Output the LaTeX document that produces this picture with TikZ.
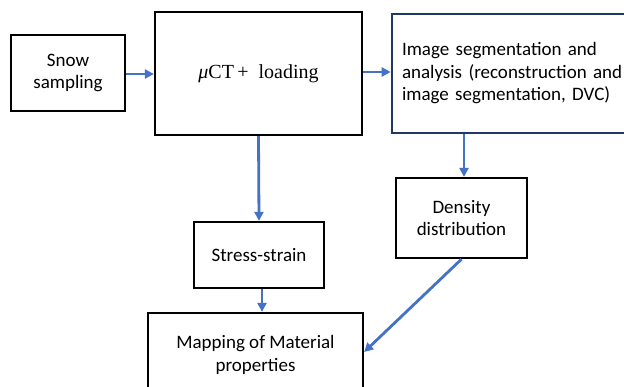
\documentclass[tikz,border=0pt]{standalone}
\usepackage{fontspec}
\newfontfamily\calfont{Carlito}
\newfontfamily\serfont{Liberation Serif}
\usetikzlibrary{arrows.meta,calc}
\definecolor{arrowblue}{HTML}{4472C4}
\definecolor{navyborder}{HTML}{1F3864}
\begin{document}
\begin{tikzpicture}[x=1pt,y=1pt,
  box/.style={draw=black,line width=2.3pt,rectangle,inner sep=0pt,align=center,
    font=\calfont\fontsize{19}{22.5}\selectfont},
  flow/.style={draw=arrowblue,line width=2.8pt,-{Triangle[length=9pt,width=9pt]}}]
\useasboundingbox (0,0) rectangle (624,-386);
\clip (0,0) rectangle (624,-386);
\fill[white] (0,0) rectangle (624,-386);
\node[box,minimum width=114,minimum height=76] (snow) at (68,-73) {Snow\\sampling};
\node[box,minimum width=207,minimum height=123,font=\serfont\fontsize{20}{24}\selectfont] (ct) at (258.5,-73.5) {\raisebox{0pt}{\itshape μ}CT\,+\ \ loading};
\node[box,draw=navyborder,line width=2.6pt,minimum width=250,minimum height=119,align=left,text width=230] (img) at (517,-73.5) {Image segmentation and\\analysis (reconstruction and\\image segmentation, DVC)};
\node[box,minimum width=131,minimum height=80] (dens) at (461.5,-218) {Density\\distribution};
\node[box,minimum width=130,minimum height=66] (stress) at (259,-255) {Stress-strain};
\node[box,minimum width=215,minimum height=84] (map) at (255.5,-355) {Mapping of Material\\properties};
\coordinate (dtop) at ($(dens.north)+(2.5,0)$);
\coordinate (sbot) at ($(stress.south)+(3,0)$);
\draw[flow] (snow.east |- 0,-74) -- (ct.west |- 0,-74);
\draw[flow] (ct.east |- 0,-72) -- (img.west |- 0,-72);
\draw[flow] (ct.south) -- (stress.north);
\draw[flow] (dtop |- img.south) -- (dtop);
\draw[flow] (sbot) -- (sbot |- map.north);
\draw[flow] (dens.south) -- ($(map.east)+(0,3)$);
\end{tikzpicture}
\end{document}
